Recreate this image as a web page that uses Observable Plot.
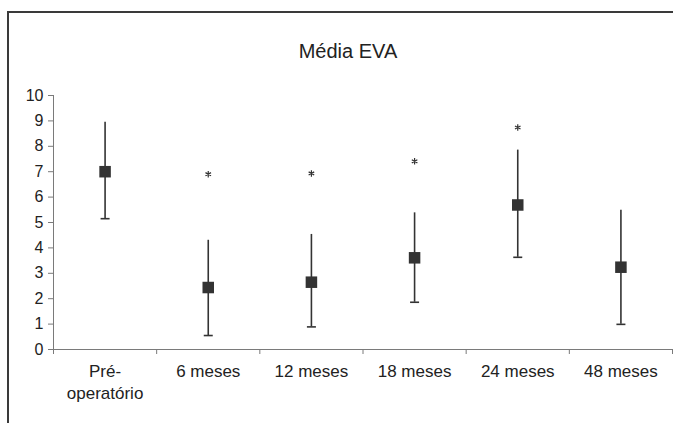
<!DOCTYPE html>
<html>
<head>
<meta charset="utf-8">
<script src="https://cdn.jsdelivr.net/npm/d3@7"></script>
<script src="https://cdn.jsdelivr.net/npm/@observablehq/plot@0.6"></script>
<style>
  html, body { margin: 0; padding: 0; background: #fff; }
  #wrap { position: relative; width: 673px; height: 423px; overflow: hidden; font-family: "Liberation Sans", Arial, sans-serif; }
  #frame { position: absolute; left: 7px; top: 11px; right: -5px; bottom: -5px; border-left: 2px solid #3a3a3a; border-top: 2px solid #3a3a3a; }
  #title { position: absolute; left: 0; width: 696px; top: 39px; text-align: center; font-size: 20px; line-height: 24px; color: #222; }
  #chart { position: absolute; left: 0; top: 0; }
</style>
</head>
<body>
<div id="wrap">
  <div id="frame"></div>
  <div id="chart"></div>
  <div id="title">Média EVA</div>
</div>
<script>
// Data
const categories = ["Pré-\noperatório", "6 meses", "12 meses", "18 meses", "24 meses", "48 meses"];
const means = [7.0, 2.44, 2.65, 3.61, 5.69, 3.24];
const upper = [8.95, 4.3, 4.53, 5.38, 7.85, 5.48];
const lower = [5.15, 0.55, 0.89, 1.86, 3.63, 0.99];
const stars = [null, 6.9, 6.93, 7.41, 8.74, null];
const yTicks = [0, 1, 2, 3, 4, 5, 6, 7, 8, 9, 10];

const rows = categories.map((c, i) => ({
  cat: c, pos: i + 0.5, mean: means[i], hi: upper[i], lo: lower[i], star: stars[i]
}));
const starRows = rows.filter(d => d.star != null);

const capSymbol = {
  draw(ctx, size) {
    const r = Math.sqrt(size / Math.PI);
    ctx.moveTo(-r, 0);
    ctx.lineTo(r, 0);
  }
};

const axisColor = "#7a7a7a";
const ink = "#333";

const chart = Plot.plot({
  width: 673,
  height: 423,
  marginLeft: 53,
  marginRight: 1,
  marginTop: 95,
  marginBottom: 74,
  style: { fontFamily: "'Liberation Sans', Arial, sans-serif", background: "transparent", color: "#222" },
  x: { type: "linear", domain: [0, categories.length] },
  y: { domain: [0, 10] },
  marks: [
    Plot.axisY({ ticks: yTicks, tickSize: 5, tickPadding: 5, stroke: axisColor, fill: "#222", fontSize: 16, label: null }),
    Plot.axisX({ ticks: d3.range(categories.length + 1), tickSize: 5, tickFormat: () => "", stroke: axisColor, label: null }),
    Plot.ruleY([0], { stroke: axisColor }),
    Plot.ruleX([0], { y1: 0, y2: 10, stroke: axisColor }),
    Plot.text(rows, { x: "pos", text: "cat", frameAnchor: "bottom", lineAnchor: "top", dy: 11, fontSize: 17, lineHeight: 1.33, fill: "#222" }),
    Plot.ruleX(rows, { x: "pos", y1: "lo", y2: "hi", stroke: ink, strokeWidth: 1.6 }),
    Plot.dot(rows, { x: "pos", y: "lo", symbol: capSymbol, r: 4.5, stroke: ink, strokeWidth: 1.6, fill: "none" }),
    Plot.dot(rows, { x: "pos", y: "mean", symbol: "square", r: 6.5, fill: ink, stroke: "none" }),
    Plot.dot(starRows, { x: "pos", y: "star", symbol: "asterisk", r: 3, stroke: ink, strokeWidth: 1.2 })
  ]
});
document.getElementById("chart").appendChild(chart);
</script>
</body>
</html>
